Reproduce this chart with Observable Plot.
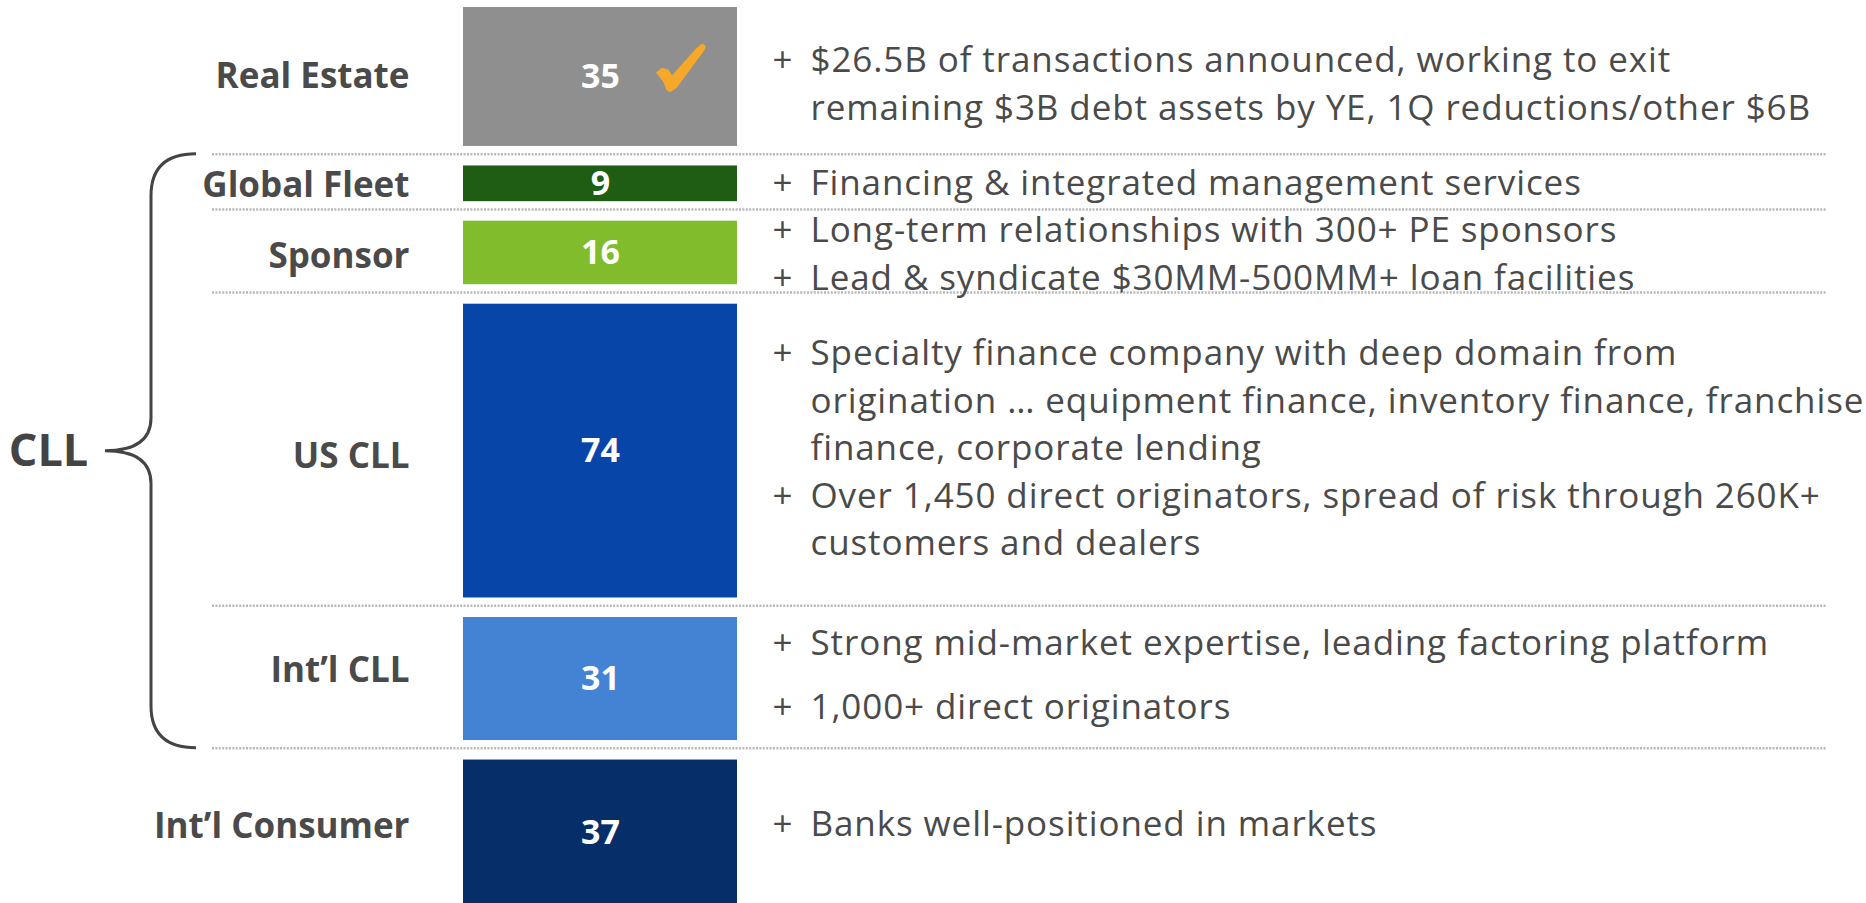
<!DOCTYPE html>
<html>
<head>
<meta charset="utf-8">
<script src="https://cdn.jsdelivr.net/npm/d3@7"></script>
<script src="https://cdn.jsdelivr.net/npm/@observablehq/plot@0.6"></script>
<style>
  html, body { margin: 0; padding: 0; background: #ffffff; }
  #chart svg { display: block; }
</style>
</head>
<body>
<div id="chart"></div>
<script>
// ---------- DATA ----------
const segments = ["Real Estate", "Global Fleet", "Sponsor", "US CLL", "Int’l CLL", "Int’l Consumer"];
const values = [35, 9, 16, 74, 31, 37];
const segmentColors = ["#8f8f8f", "#1f5c14", "#80bc2b", "#0746a8", "#4482d3", "#062f69"];
const bullets = [
  [["$26.5B of transactions announced, working to exit", "remaining $3B debt assets by YE, 1Q reductions/other $6B"]],
  [["Financing & integrated management services"]],
  [["Long-term relationships with 300+ PE sponsors"], ["Lead & syndicate $30MM-500MM+ loan facilities"]],
  [["Specialty finance company with deep domain from", "origination … equipment finance, inventory finance, franchise", "finance, corporate lending"],
   ["Over 1,450 direct originators, spread of risk through 260K+", "customers and dealers"]],
  [["Strong mid-market expertise, leading factoring platform"], ["1,000+ direct originators"]],
  [["Banks well-positioned in markets"]]
];
const groupLabel = "CLL";
const groupMembers = ["Global Fleet", "Sponsor", "US CLL", "Int’l CLL"];
const checkedSegments = ["Real Estate"];

// ---------- LAYOUT ----------
const W = 1866, H = 903;
const PX_PER_UNIT = 3.97;
const GAP = 19.5 / PX_PER_UNIT;
const TOP = 7 / PX_PER_UNIT;
const LINE_PX = 47.5;
const extraBulletGapPx = {"Int’l CLL": 16};
const noteOffsetPx = {"Real Estate": 8, "Sponsor": 2, "US CLL": -2, "Int’l CLL": -3, "Int’l Consumer": -9};
const labelOffsetPx = {"Global Fleet": 2, "Sponsor": 4, "US CLL": 6, "Int’l CLL": -8, "Int’l Consumer": -7};
const BAR_X1 = 463, BAR_X2 = 737, BAR_XC = 600;
const LABEL_X = 409, PLUS_X = 772, TEXT_X = 810;
const RULE_X1 = 212, RULE_X2 = 1826;
const FONT = "'Open Sans', 'Noto Sans', sans-serif";
const TEXT_COLOR = "#4a4a4a";

let cursor = TOP;
const rows = segments.map((segment, i) => {
  const y1 = cursor, y2 = cursor + values[i];
  cursor = y2 + GAP;
  return {segment, value: values[i], y1, y2, yc: (y1 + y2) / 2,
          yl: (y1 + y2) / 2 + (labelOffsetPx[segment] || 0) / PX_PER_UNIT};
});
const separators = rows.slice(0, -1).map(r => ({y: r.y2 + GAP * 0.4}));

// text lines for the notes
const plusLines = [], textLines = [];
rows.forEach((r, i) => {
  const extra = extraBulletGapPx[r.segment] || 0;
  const items = bullets[i];
  const nLines = d3.sum(items, b => b.length);
  const blockPx = (nLines - 1) * LINE_PX + (items.length - 1) * extra;
  let off = -blockPx / 2 + (noteOffsetPx[r.segment] || 0);
  items.forEach((b) => {
    b.forEach((line, li) => {
      const y = r.yc + off / PX_PER_UNIT;
      if (li === 0) plusLines.push({y, text: "+"});
      textLines.push({y, text: line});
      off += LINE_PX;
    });
    off += extra;
  });
});

// curly brace for the CLL group
const members = rows.filter(r => groupMembers.includes(r.segment));
const braceTop = members[0].y1 - GAP * 0.6;
const braceBottom = members[members.length - 1].y2 + GAP * 0.4;
const braceMid = (braceTop + braceBottom) / 2;

function braceMark(index, scales) {
  const y = scales.y || (v => v * PX_PER_UNIT);
  const x = scales.x || (v => v);
  const t = y(braceTop), b = y(braceBottom), m = y(braceMid);
  const xe = x(196), xv = x(151), xt = x(105);
  const r = 42;
  const p = d3.path();
  p.moveTo(xe, t);
  p.quadraticCurveTo(xv, t, xv, t + r);
  p.lineTo(xv, m - 33);
  p.quadraticCurveTo(xv, m, xt, m);
  p.quadraticCurveTo(xv, m, xv, m + 33);
  p.lineTo(xv, b - r);
  p.quadraticCurveTo(xv, b, xe, b);
  return d3.create("svg:path")
    .attr("d", p.toString())
    .attr("fill", "none")
    .attr("stroke", "#444444")
    .attr("stroke-width", 3)
    .node();
}

// brush-style check mark next to the value of checked segments
function checkMark(index, scales) {
  const y = scales.y || (v => v * PX_PER_UNIT);
  const x = scales.x || (v => v);
  const g = d3.create("svg:g");
  rows.filter(r => checkedSegments.includes(r.segment)).forEach(r => {
    const x0 = x(657), y0 = y(r.yc) - 32;
    const pts = [[0, 28], [5, 24], [11, 26], [15, 32], [40, 4], [45, 0], [48, 2], [47, 5],
                 [19, 43], [13, 47], [10, 45], [7, 37], [3, 32]];
    const p = d3.path();
    pts.forEach(([px, py], k) => k ? p.lineTo(x0 + px, y0 + py) : p.moveTo(x0 + px, y0 + py));
    p.closePath();
    g.append("path").attr("d", p.toString()).attr("fill", "#f5a82a")
      .attr("stroke", "#f5a82a").attr("stroke-width", 1.5).attr("stroke-linejoin", "round");
  });
  return g.node();
}

const chart = Plot.plot({
  width: W,
  height: H,
  margin: 0,
  x: {domain: [0, W], range: [0, W], axis: null},
  y: {domain: [0, H / PX_PER_UNIT], range: [0, H], axis: null},
  color: {domain: segments, range: segmentColors},
  style: {fontFamily: FONT, background: "#ffffff"},
  marks: [
    Plot.ruleY(separators, {y: "y", x1: RULE_X1, x2: RULE_X2, stroke: "#b8b8b8", strokeWidth: 2.5, strokeDasharray: "2,1.4"}),
    Plot.rect(rows, {x1: BAR_X1, x2: BAR_X2, y1: "y1", y2: "y2", fill: "segment"}),
    Plot.text(rows, {x: BAR_XC, y: "yc", text: d => String(d.value), fill: "#ffffff", fontSize: 34, fontWeight: "bold"}),
    checkMark,
    Plot.text(rows, {x: LABEL_X, y: "yl", text: "segment", textAnchor: "end", fill: TEXT_COLOR, fontSize: 35, fontWeight: "bold"}),
    Plot.text(plusLines, {x: PLUS_X, y: "y", text: "text", textAnchor: "start", fill: TEXT_COLOR, fontSize: 35}),
    Plot.text(textLines, {x: TEXT_X, y: "y", text: "text", textAnchor: "start", fill: TEXT_COLOR, fontSize: 35}),
    braceMark,
    Plot.text([{label: groupLabel}], {x: 48, y: () => braceMid, text: "label", fill: "#444444", fontSize: 45, fontWeight: "bold"})
  ]
});
// slight tracking on the note text to match the wider original face
d3.select(chart).selectAll("[font-size='35']")
  .filter(function() { return this.getAttribute("font-weight") !== "bold"; })
  .attr("letter-spacing", "0.9px");
document.getElementById("chart").appendChild(chart);
</script>
</body>
</html>
